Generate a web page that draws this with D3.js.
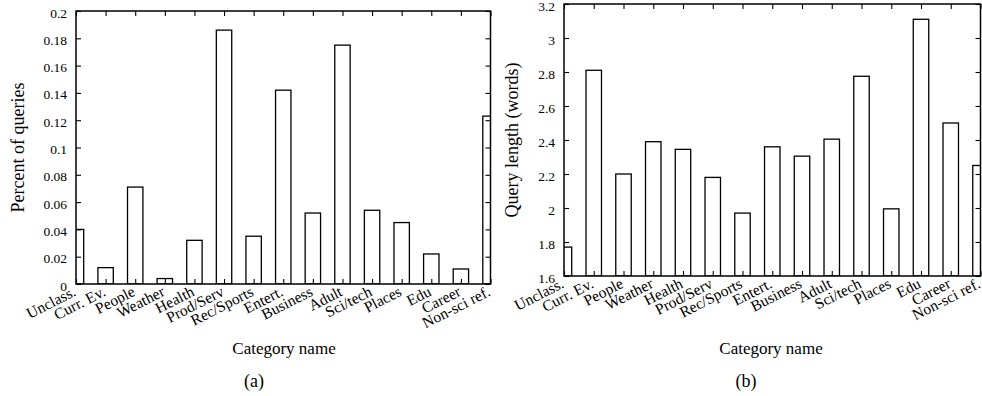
<!DOCTYPE html>
<html>
<head>
<meta charset="utf-8">
<script src="https://cdn.jsdelivr.net/npm/d3@7"></script>
<style>
  html, body { margin: 0; padding: 0; background: #fff; }
  svg { display: block; }
  svg text { font-family: "Liberation Serif", "Times New Roman", serif !important; fill: #000; }
</style>
</head>
<body>
<svg id="chart" width="982" height="396"></svg>
<script>
const categories = ["Unclass.", "Curr. Ev.", "People", "Weather", "Health", "Prod/Serv", "Rec/Sports",
  "Entert.", "Business", "Adult", "Sci/tech", "Places", "Edu", "Career", "Non-sci ref."];
const percentQueries = [0.040, 0.012, 0.071, 0.004, 0.032, 0.186, 0.035, 0.142, 0.052, 0.175, 0.054, 0.045, 0.022, 0.011, 0.123];
const queryLength = [1.77, 2.81, 2.20, 2.39, 2.345, 2.18, 1.97, 2.36, 2.305, 2.405, 2.775, 1.995, 3.11, 2.50, 2.25];
const ticksA = [0, 0.02, 0.04, 0.06, 0.08, 0.1, 0.12, 0.14, 0.16, 0.18, 0.2];
const ticksB = [1.6, 1.8, 2, 2.2, 2.4, 2.6, 2.8, 3, 3.2];

const svg = d3.select("#chart");
const FONT = '"Liberation Serif", "Times New Roman", serif';

function panel(opts) {
  const { id, x0, x1, yTop, yBot, values, domain, ticks, yLabel, yLabelX, caption, captionX, xLabelX } = opts;
  const g = svg.append("g");
  const x = d3.scalePoint().domain(categories).range([x0, x1]).padding(0);
  const y = d3.scaleLinear().domain(domain).range([yBot, yTop]);
  const bw = x.step() * 0.52;

  g.append("clipPath").attr("id", "clip" + id)
    .append("rect").attr("x", x0).attr("y", yTop).attr("width", x1 - x0).attr("height", yBot - yTop);

  g.append("g").attr("clip-path", `url(#clip${id})`)
    .selectAll("rect").data(categories).join("rect")
    .attr("x", d => x(d) - bw / 2)
    .attr("width", bw)
    .attr("y", (d, i) => y(values[i]))
    .attr("height", (d, i) => y(domain[0]) - y(values[i]))
    .attr("fill", "#fff").attr("stroke", "#000").attr("stroke-width", 1.3);

  const tickStyle = sel => {
    sel.attr("font-family", FONT);
    sel.select(".domain").remove();
    sel.selectAll(".tick line").attr("stroke", "#000").attr("stroke-width", 1.1);
  };

  // left axis with labels
  g.append("g").attr("transform", `translate(${x0},0)`)
    .call(d3.axisLeft(y).tickValues(ticks).tickSize(-5).tickPadding(9).tickFormat(d => String(d)))
    .call(tickStyle)
    .call(s => s.selectAll(".tick text").attr("dy", "0.45em").style("font-size", "13.5px"));
  // right axis
  g.append("g").attr("transform", `translate(${x1},0)`)
    .call(d3.axisRight(y).tickValues(ticks).tickSize(-5).tickFormat(""))
    .call(tickStyle);
  // top axis
  g.append("g").attr("transform", `translate(0,${yTop})`)
    .call(d3.axisTop(x).tickSize(-5).tickFormat(""))
    .call(tickStyle);
  // bottom axis
  g.append("g").attr("transform", `translate(0,${yBot})`)
    .call(d3.axisBottom(x).tickSize(-5).tickFormat(""))
    .call(tickStyle);

  // frame
  g.append("rect").attr("x", x0).attr("y", yTop).attr("width", x1 - x0).attr("height", yBot - yTop)
    .attr("fill", "none").attr("stroke", "#000").attr("stroke-width", 1.5);

  // category labels
  g.append("g").selectAll("text").data(categories).join("text")
    .attr("transform", d => `translate(${x(d) + 1},${yBot + 11}) rotate(-27)`)
    .attr("text-anchor", "end")
    .style("font-size", "15.5px")
    .text(d => d);

  // axis titles
  g.append("text")
    .attr("transform", `translate(${yLabelX},${(yTop + yBot) / 2}) rotate(-90)`)
    .attr("text-anchor", "middle").attr("dy", "0.35em")
    .style("font-size", "18px")
    .text(yLabel);

  g.append("text").attr("x", xLabelX).attr("y", 354)
    .attr("text-anchor", "middle").style("font-size", "17px")
    .text("Category name");

  g.append("text").attr("x", captionX).attr("y", 387)
    .attr("text-anchor", "middle").style("font-size", "18px")
    .text(caption);
}

panel({ id: "a", x0: 76, x1: 490.5, yTop: 11, yBot: 284, values: percentQueries, domain: [0, 0.2],
  ticks: ticksA, yLabel: "Percent of queries", yLabelX: 18, caption: "(a)", captionX: 254, xLabelX: 284 });
panel({ id: "b", x0: 564, x1: 980.5, yTop: 4, yBot: 276, values: queryLength, domain: [1.6, 3.2],
  ticks: ticksB, yLabel: "Query length (words)", yLabelX: 512, caption: "(b)", captionX: 746, xLabelX: 771 });
</script>
</body>
</html>
